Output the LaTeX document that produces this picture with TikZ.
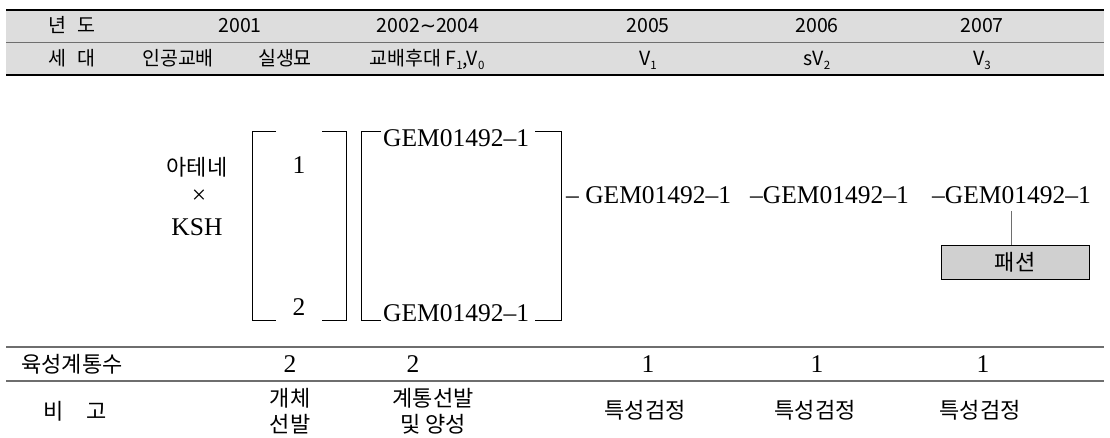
\documentclass[tikz,border=0pt]{standalone}
\usepackage{fontspec}
\setmainfont{Liberation Serif}
\newfontfamily\krs{Noto Sans CJK KR}
\newfontfamily\djv{DejaVu Sans}
\newfontfamily\gemf{Liberation Serif}
\newcommand\hdrfont{\krs\fontsize{19.5}{22}\selectfont}
\newcommand\bodyk{\krs\fontsize{22}{26}\selectfont}
\newcommand\gmfont{\gemf\fontsize{25.5}{28}\selectfont}
\newcommand\lowsub[1]{\raisebox{-0.35ex}{\fontsize{11.5}{11.5}\selectfont #1}}
\definecolor{hdrgray}{RGB}{221,221,221}
\definecolor{rulegray}{RGB}{110,110,110}
\definecolor{boxgray}{RGB}{208,208,208}
\begin{document}
\begin{tikzpicture}[x=1pt,y=-1pt,
  hdr/.style={font=\hdrfont,inner sep=0pt,anchor=base},
  bk/.style={font=\bodyk,inner sep=0pt,anchor=center},
  gm/.style={font=\gmfont,inner sep=0pt,anchor=base west},
  num/.style={font=\gmfont,inner sep=0pt,anchor=center},
  br/.style={draw=black,line width=0.9pt},
  fbox/.style={draw=black,line width=0.9pt,fill=boxgray,minimum width=148pt,minimum height=34pt,inner sep=0pt,font=\bodyk},
  link/.style={draw=rulegray,line width=0.9pt}]
\useasboundingbox (0,0) rectangle (1110,438);
% header band
\fill[hdrgray] (6,10) rectangle (1104,75);
\draw[line width=2pt] (6,10) -- (1104,10);
\draw[rulegray,line width=0.9pt] (6,42) -- (1104,42);
\draw[line width=2.5pt] (6,75) -- (1104,75);
% header row 1
\node[hdr] (h1) at (72,33) {년\hspace{0.55em}도};
\node[hdr] (h2) at (240,33) {2001};
\node[hdr] (h3) at (428,33) {2002{\djv∼}2004};
\node[hdr] (h4) at (648,33) {2005};
\node[hdr] (h5) at (817,33) {2006};
\node[hdr] (h6) at (982,33) {2007};
% header row 2
\node[hdr] (g1) at (72,66) {세\hspace{0.55em}대};
\node[hdr] (g2) at (178,66) {인공교배};
\node[hdr] (g3) at (285,66) {실생묘};
\node[hdr] (g4) at (427,66) {교배후대 F\lowsub{1},V\lowsub{0}};
\node[hdr] (g5) at (648,66) {V\lowsub{1}};
\node[hdr] (g6) at (817,66) {sV\lowsub{2}};
\node[hdr] (g7) at (982,66) {V\lowsub{3}};
% parents
\node[bk] (p1) at (197,167) {아테네};
\node[num] (px) at (199,197) {×};
\node[num] (p2) at (197,227) {KSH};
% brackets
\draw[br] (276,131) -| (252,320) -- (276,320);
\draw[br] (322,131) -| (346,320) -- (322,320);
\draw[br] (381,131) -| (361,320) -- (381,320);
\draw[br] (535,131) -| (561,320) -- (535,320);
\node[num] (n1) at (299,165) {1};
\node[num] (n2) at (299,307) {2};
\node[gm] (ga) at (383,147) {GEM01492–1};
\node[gm] (gb) at (383,321) {GEM01492–1};
% lines
\node[gm] (gem1) at (566,204) {– GEM01492–1};
\node[gm] (gem2) at (750,204) {–GEM01492–1};
\node[gm] (gem3) at (932,204) {–GEM01492–1};
\node[fbox] (fashion) at (1015,262) {패션};
\coordinate (g3b) at (1011,211);
\draw[link] (g3b) -- (g3b |- fashion.north);
% bottom table
\draw[rulegray,line width=1.5pt] (6,347) -- (1104,347);
\draw[rulegray,line width=1.5pt] (6,381) -- (1104,381);
\node[bk] (r1) at (72,364) {육성계통수};
\node[num] (c1) at (290,364) {2};
\node[num] (c2) at (413,364) {2};
\node[num] (c3) at (648,364) {1};
\node[num] (c4) at (817,364) {1};
\node[num] (c5) at (983,364) {1};
\node[bk] (r2) at (75,411) {비\hspace{1em}고};
\node[bk,align=center] (d1) at (290,411) {개체\\선발};
\node[bk,align=center] (d2) at (433,411) {계통선발\\및 양성};
\node[bk] (d3) at (645,410) {특성검정};
\node[bk] (d4) at (815,410) {특성검정};
\node[bk] (d5) at (980,410) {특성검정};
\end{tikzpicture}
\end{document}
